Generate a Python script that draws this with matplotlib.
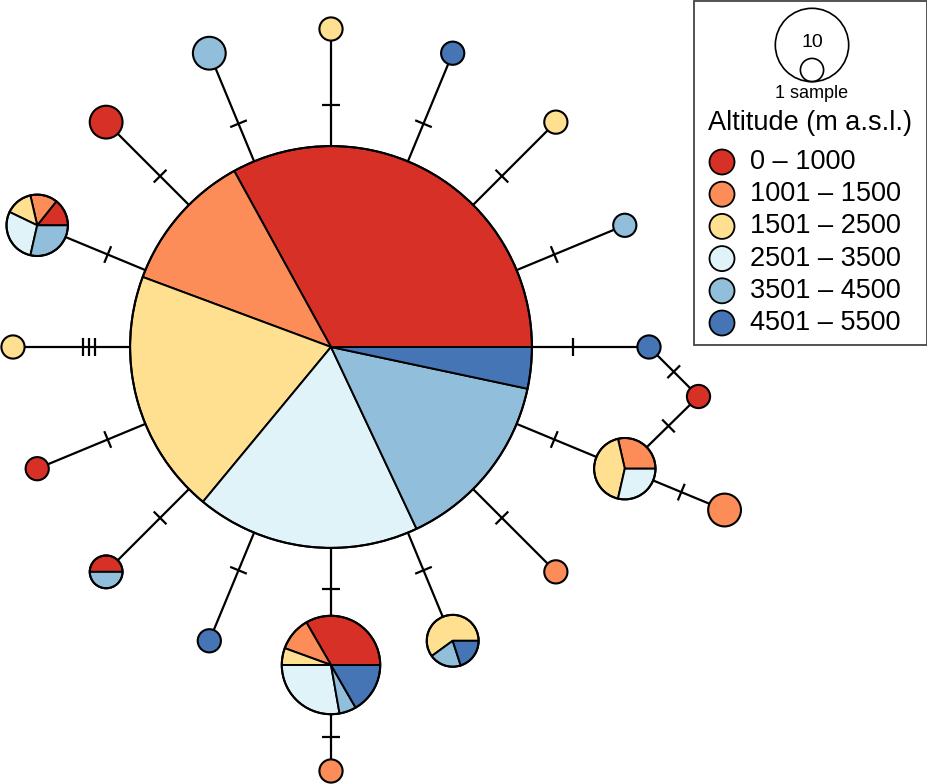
import numpy as np
import matplotlib.pyplot as plt
from matplotlib.patches import Wedge, Circle, Rectangle

plt.rcParams['font.family'] = ['Liberation Sans', 'DejaVu Sans']

# altitude classes and their colours
classes = ['0 – 1000', '1001 – 1500', '1501 – 2500',
           '2501 – 3500', '3501 – 4500', '4501 – 5500']
colours = ['#D73027', '#FC8D59', '#FEE090', '#E0F3F8', '#91BFDB', '#4575B4']

haplotypes = ['H%d' % i for i in range(1, 21)]

# samples per haplotype in each altitude class
alt_0_1000 = [99, 0, 0, 0, 0, 0, 0, 1, 0, 0, 0, 0, 6, 0, 0, 1, 1, 0, 1, 2]
alt_1001_1500 = [34, 0, 0, 0, 0, 0, 0, 0, 2, 2, 1, 0, 2, 1, 0, 0, 0, 0, 1, 0]
alt_1501_2500 = [59, 1, 0, 0, 1, 0, 0, 0, 3, 0, 0, 3, 1, 0, 0, 0, 0, 1, 1, 0]
alt_2501_3500 = [54, 0, 0, 0, 0, 0, 0, 0, 2, 0, 0, 0, 5, 0, 0, 0, 0, 0, 2, 0]
alt_3501_4500 = [44, 0, 2, 0, 0, 1, 0, 0, 0, 0, 0, 1, 1, 0, 0, 1, 0, 0, 2, 0]
alt_4501_5500 = [10, 0, 0, 1, 0, 0, 1, 0, 0, 0, 0, 1, 3, 0, 1, 0, 0, 0, 0, 0]

counts = np.array([alt_0_1000, alt_1001_1500, alt_1501_2500,
                   alt_2501_3500, alt_3501_4500, alt_4501_5500]).T

# links between haplotypes and number of mutational steps
link_from = ['H1'] * 16 + ['H7', 'H8', 'H9', 'H13']
link_to = ['H2', 'H3', 'H4', 'H5', 'H6', 'H7', 'H9', 'H11', 'H12', 'H13',
           'H15', 'H16', 'H17', 'H18', 'H19', 'H20', 'H8', 'H9', 'H10', 'H14']
link_steps = [1, 1, 1, 1, 1, 1, 1, 1, 1, 1, 1, 1, 1, 3, 1, 1, 1, 1, 1, 1]

# layout: parent node, direction (deg) and link length (px)
spoke = 318
layout = {
    'H2': ('H1', 90, spoke), 'H3': ('H1', 112.5, spoke),
    'H4': ('H1', 67.5, spoke), 'H5': ('H1', 45, spoke),
    'H6': ('H1', 22.5, spoke), 'H7': ('H1', 0, spoke),
    'H8': ('H7', -45, 70), 'H9': ('H1', -22.5, spoke),
    'H10': ('H9', -22.5, 108), 'H11': ('H1', -45, spoke),
    'H12': ('H1', -67.5, spoke), 'H13': ('H1', -90, spoke),
    'H14': ('H13', -90, 106), 'H15': ('H1', -112.5, spoke),
    'H16': ('H1', -135, spoke), 'H17': ('H1', -157.5, spoke),
    'H18': ('H1', 180, spoke), 'H19': ('H1', 157.5, spoke),
    'H20': ('H1', 135, spoke),
}

W, H = 928, 784
fig = plt.figure(figsize=(9.28, 7.84), dpi=100)
ax = fig.add_axes([0, 0, 1, 1])
ax.set_xlim(0, W)
ax.set_ylim(0, H)
ax.set_aspect('equal')
ax.axis('off')

pos = {'H1': np.array([331.0, H - 347.0])}
for h in haplotypes[1:]:
    parent, ang, length = layout[h]
    a = np.deg2rad(ang)
    pos[h] = pos[parent] + length * np.array([np.cos(a), np.sin(a)])

unit = 11.6  # radius of a single-sample circle
radius = {h: unit * np.sqrt(counts[i].sum()) for i, h in enumerate(haplotypes)}

# links with mutation ticks
for a, b, steps in zip(link_from, link_to, link_steps):
    pa, pb = pos[a], pos[b]
    ax.plot([pa[0], pb[0]], [pa[1], pb[1]], color='black', lw=1.6, zorder=1,
            solid_capstyle='butt')
    d = pb - pa
    L = np.hypot(*d)
    u = d / L
    n = np.array([-u[1], u[0]])
    if a == 'H1':
        s = 0.76 * L
    else:
        s = (radius[a] + L - radius[b]) / 2
    for k in range(steps):
        c = pa + u * (s + (k - (steps - 1) / 2) * 6)
        p1, p2 = c - 9 * n, c + 9 * n
        ax.plot([p1[0], p2[0]], [p1[1], p2[1]], color='black', lw=1.6,
                zorder=1, solid_capstyle='butt')

# haplotype pies
for i, h in enumerate(haplotypes):
    c = counts[i]
    r = radius[h]
    x, y = pos[h]
    if (c > 0).sum() == 1:
        ax.add_patch(Circle((x, y), r, facecolor=colours[int(np.argmax(c))],
                            edgecolor='none', zorder=2))
    else:
        start = 0.0
        for k in range(len(c)):
            if c[k] == 0:
                continue
            span = 360.0 * c[k] / c.sum()
            ax.add_patch(Wedge((x, y), r, start, start + span,
                               facecolor=colours[k], edgecolor='black',
                               lw=1.4, joinstyle='round', zorder=2))
            start += span
    ax.add_patch(Circle((x, y), r, fill=False, edgecolor='black', lw=1.5,
                        zorder=3))

# legend
ax.add_patch(Rectangle((694.5, H - 345), 232.5, 344.5, fill=False,
                       edgecolor='#444444', lw=1.3, zorder=4, clip_on=False))
ax.add_patch(Circle((812, H - 45), unit * np.sqrt(10), fill=False,
                    edgecolor='black', lw=1.2, zorder=4))
ax.add_patch(Circle((812, H - 70), unit, fill=False, edgecolor='black',
                    lw=1.2, zorder=4))
ax.text(812, H - 42, '10', ha='center', va='center', fontsize=14, zorder=5)
ax.text(812, H - 93, '1 sample', ha='center', va='center', fontsize=13,
        zorder=5)
ax.text(708, H - 123, 'Altitude (m a.s.l.)', ha='left', va='center',
        fontsize=19.5, zorder=5)
for k, (lab, col) in enumerate(zip(classes, colours)):
    yk = H - (162 + 32.2 * k)
    ax.add_patch(Circle((722, yk), 12.5, facecolor=col, edgecolor='black',
                        lw=1.3, zorder=5))
    ax.text(750, yk, lab, ha='left', va='center', fontsize=19.5, zorder=5)

fig.savefig('out.png', dpi=100)
